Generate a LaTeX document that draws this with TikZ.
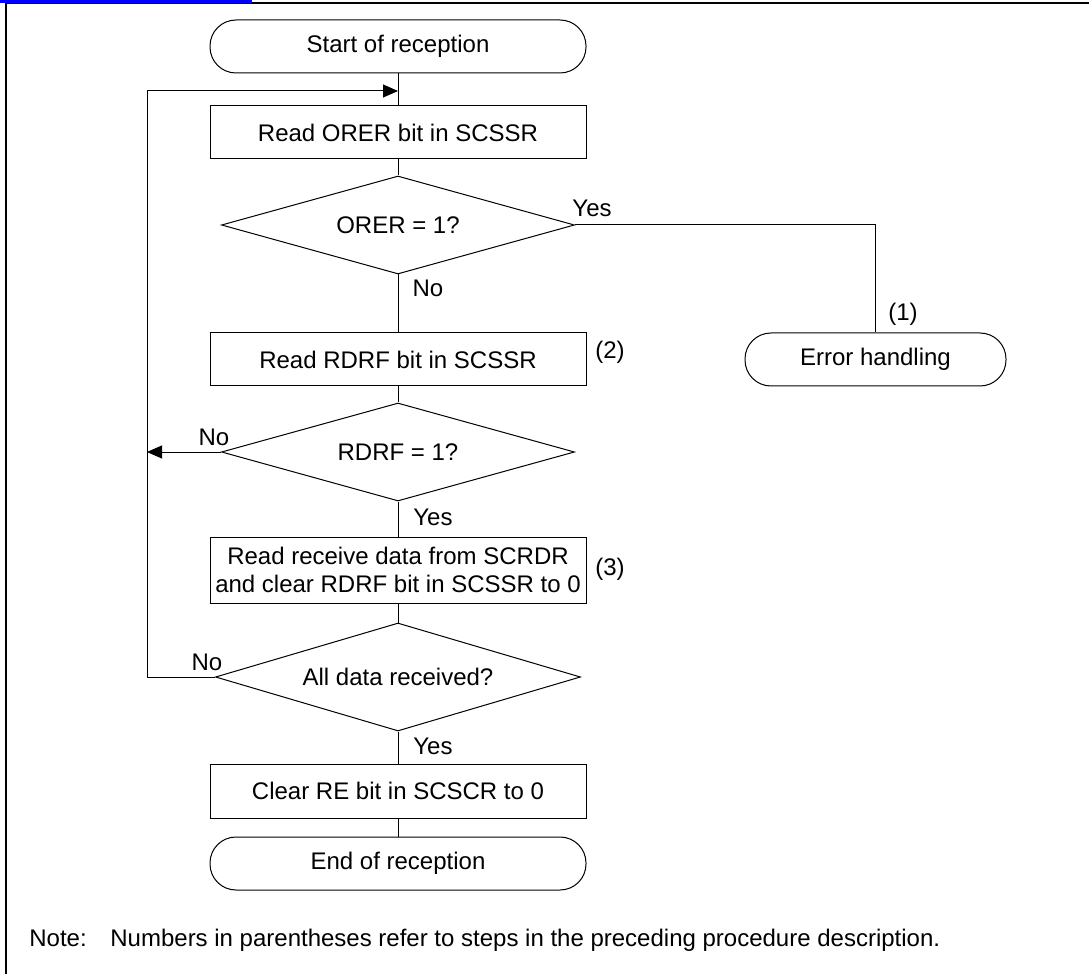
\documentclass[tikz,border=0pt]{standalone}
\usepackage{fontspec}
\setmainfont{Liberation Sans}
\usetikzlibrary{shapes.geometric,arrows.meta}
\begin{document}
\begin{tikzpicture}[x=0.5pt,y=-0.5pt,
  every node/.style={font=\fontsize{12}{13.6}\selectfont},
  flow/.style={draw=black, line width=0.5pt},
  proc/.style={draw, line width=0.5pt, rectangle, minimum width=188pt, minimum height=26.5pt, inner sep=0pt, align=center},
  term/.style={proc, rounded corners=13pt},
  dec/.style={draw, line width=0.5pt, diamond, minimum width=176.5pt, minimum height=49pt, inner sep=0pt, shape aspect=3.6},
  lbl/.style={inner sep=0pt},
  arr/.style={-{Triangle[length=7.5pt,width=6.5pt]}}
]
\useasboundingbox (0,0) rectangle (1089,974);
% frame
\draw[line width=1.1pt] (5,2.9) -- (1089,2.9);
\draw[line width=0.85pt] (5.8,2) -- (5.8,974);
\draw[blue, line width=1.35pt] (0,1.35) -- (252,1.35);

% nodes
\node[term] (start) at (398,46.5) {Start of reception};
\node[proc] (b1) at (398,132.5) {Read ORER bit in SCSSR};
\node[dec] (d1) at (398,225) {ORER = 1?};
\node[proc] (b2) at (398,359.5) {Read RDRF bit in SCSSR};
\node[term, minimum width=130.5pt] (err) at (875.5,359.5) {Error handling};
\node[dec] (d2) at (398,452) {RDRF = 1?};
\node[proc, minimum height=33pt] (b3) at (398,570) {Read receive data from SCRDR\\and clear RDRF bit in SCSSR to 0};
\node[dec, minimum width=182.5pt, minimum height=54pt, shape aspect=3.38] (d3) at (398,677) {All data received?};
\node[proc, minimum height=27pt] (b4) at (398,791) {Clear RE bit in SCSCR to 0};
\node[term] (end) at (398,863.5) {End of reception};

% helper coordinates
\coordinate (loopT) at (398,91);
\coordinate (loopL) at (147,91);
\coordinate (errT) at (875.5,225);

% connectors
\draw[flow] (start) -- (b1);
\draw[flow] (b1) -- (d1);
\draw[flow] (d1) -- (b2);
\draw[flow] (b2) -- (d2);
\draw[flow] (d2) -- (b3);
\draw[flow] (b3) -- (d3);
\draw[flow] (d3) -- (b4);
\draw[flow] (b4) -- (end);
\draw[flow] (d1.east) -- (errT) -- (err.north);
\draw[flow, arr] (d2.west) -- (loopL |- d2.west);
\draw[flow, arr] (d3.west) -- (loopL |- d3.west) -- (loopL) -- (loopT);

% labels
\node[lbl] (y1) at (592,208) {Yes};
\node[lbl] (n1) at (428,288) {No};
\node[lbl] (s1) at (903,314) {(1)};
\node[lbl] (s2) at (610,352) {(2)};
\node[lbl] (n2) at (214,437) {No};
\node[lbl] (y2) at (433,517) {Yes};
\node[lbl] (s3) at (610,569) {(3)};
\node[lbl] (n3) at (207,662) {No};
\node[lbl] (y3) at (433,746) {Yes};

% note
\node[lbl, anchor=base west] (notel) at (29,946) {Note:};
\node[lbl, anchor=base west] (notet) at (110,946) {Numbers in parentheses refer to steps in the preceding procedure description.};
\end{tikzpicture}
\end{document}
